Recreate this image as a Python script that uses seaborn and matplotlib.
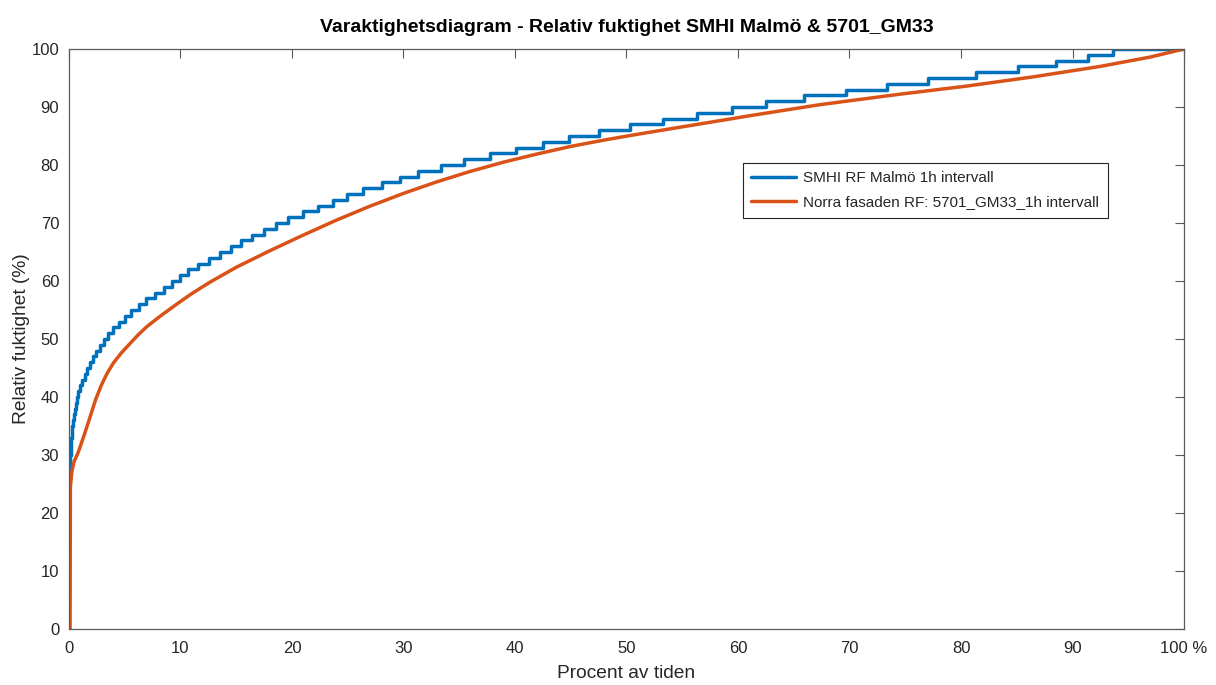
import matplotlib
matplotlib.use("Agg")
import matplotlib.pyplot as plt
import seaborn as sns
import pandas as pd

# SMHI Malmö: relative humidity in whole percent; share of time (%) at which each level begins
smhi_rf = list(range(23, 101))
smhi_start = [
    0.00, 0.01, 0.02, 0.035, 0.05, 0.07, 0.09, 0.11, 0.14, 0.17,   # 23-32
    0.21, 0.26, 0.31, 0.37, 0.43, 0.50, 0.59, 0.69, 0.85, 1.02,    # 33-42
    1.21, 1.42, 1.65, 1.90, 2.16, 2.45, 2.76, 3.10, 3.50, 3.95,    # 43-52
    4.45, 5.00, 5.60, 6.25, 6.95, 7.70, 8.50, 9.25, 9.96, 10.67,   # 53-62
    11.57, 12.56, 13.54, 14.53, 15.43, 16.41, 17.49, 18.57, 19.64, 20.99,  # 63-72
    22.33, 23.68, 24.93, 26.40, 28.07, 29.69, 31.30, 33.36, 35.43, 37.76,  # 73-82
    40.09, 42.51, 44.84, 47.53, 50.31, 53.27, 56.32, 59.46, 62.51, 65.92,  # 83-92
    69.69, 73.36, 77.04, 81.35, 85.11, 88.52, 91.39, 93.63,               # 93-100
]

# Norra fasaden 5701_GM33: sorted relative humidity against share of time
gm33_pct = [0.10, 0.13, 0.25, 0.45, 0.84, 1.43, 1.90, 2.40, 2.90, 3.40,
            4.00, 4.70, 5.47, 6.20, 6.97, 8.16, 9.66, 11.0, 12.65, 15.04,
            18.0, 21.0, 24.0, 27.0, 30.0, 33.0, 36.0, 39.0, 42.0, 45.0,
            48.0, 51.0, 55.4, 61.4, 67.35, 74.5, 80.5, 86.5, 92.5, 96.95,
            100.0]
gm33_rf = [0.0, 24.5, 27.0, 28.8, 30.5, 33.8, 36.6, 39.6, 42.0, 44.0,
           45.9, 47.6, 49.2, 50.7, 52.1, 53.9, 56.0, 57.8, 59.8, 62.4,
           65.2, 67.9, 70.5, 72.9, 75.1, 77.1, 78.9, 80.5, 81.9, 83.2,
           84.3, 85.3, 86.7, 88.6, 90.4, 92.2, 93.6, 95.2, 97.0, 98.6,
           100.0]

x_ticks = list(range(0, 101, 10))
x_ticklabels = [str(t) for t in x_ticks[:-1]] + ["100 %"]
y_ticks = list(range(0, 101, 10))

title = "Varaktighetsdiagram - Relativ fuktighet SMHI Malmö & 5701_GM33"
label_smhi = "SMHI RF Malmö 1h intervall"
label_gm33 = "Norra fasaden RF: 5701_GM33_1h intervall"

sns.set_style("white")
plt.rcParams["font.family"] = ["Liberation Sans", "DejaVu Sans"]

blue = "#0072BD"
orange = "#D95319"
axis_col = "#262626"
spine_col = "#5a5a5a"

smhi_df = pd.DataFrame({"pct": smhi_start + [100.0], "rf": smhi_rf + [100]})
gm33_df = pd.DataFrame({"pct": gm33_pct, "rf": gm33_rf})

fig = plt.figure(figsize=(12.16, 6.85), dpi=100)
ax = fig.add_axes([0.0567, 0.0818, 0.917, 0.8467])

sns.lineplot(data=smhi_df, x="pct", y="rf", ax=ax, color=blue, linewidth=2.5,
             drawstyle="steps-post", sort=False, estimator=None, label=label_smhi)
sns.lineplot(data=gm33_df, x="pct", y="rf", ax=ax, color=orange, linewidth=2.5,
             sort=False, estimator=None, label=label_gm33)

ax.set_xlim(0, 100)
ax.set_ylim(0, 100)
ax.set_xticks(x_ticks)
ax.set_xticklabels(x_ticklabels)
ax.set_yticks(y_ticks)
ax.tick_params(direction="in", length=6.5, width=0.8, colors=spine_col,
               labelcolor=axis_col, labelsize=12, top=True, right=True)
ax.tick_params(axis="x", pad=9)
ax.tick_params(axis="y", pad=7)
for s in ax.spines.values():
    s.set_visible(True)
    s.set_color(spine_col)
    s.set_linewidth(0.9)

ax.set_xlabel("Procent av tiden", fontsize=13.8, color=axis_col, labelpad=6)
ax.set_ylabel("Relativ fuktighet (%)", fontsize=13.8, color=axis_col, labelpad=1)
ax.set_title(title, fontsize=14, fontweight="bold", color="black", pad=12)

leg = ax.legend(loc="upper left", bbox_to_anchor=(0.6045, 0.8034),
                fontsize=11, frameon=True, fancybox=False, shadow=False,
                handlelength=2.9, borderpad=0.55, labelspacing=0.65,
                handletextpad=0.5, borderaxespad=0.0)
leg.get_frame().set_edgecolor("#262626")
leg.get_frame().set_linewidth(0.8)
leg.get_frame().set_alpha(1.0)

fig.savefig("out.png", dpi=100)
